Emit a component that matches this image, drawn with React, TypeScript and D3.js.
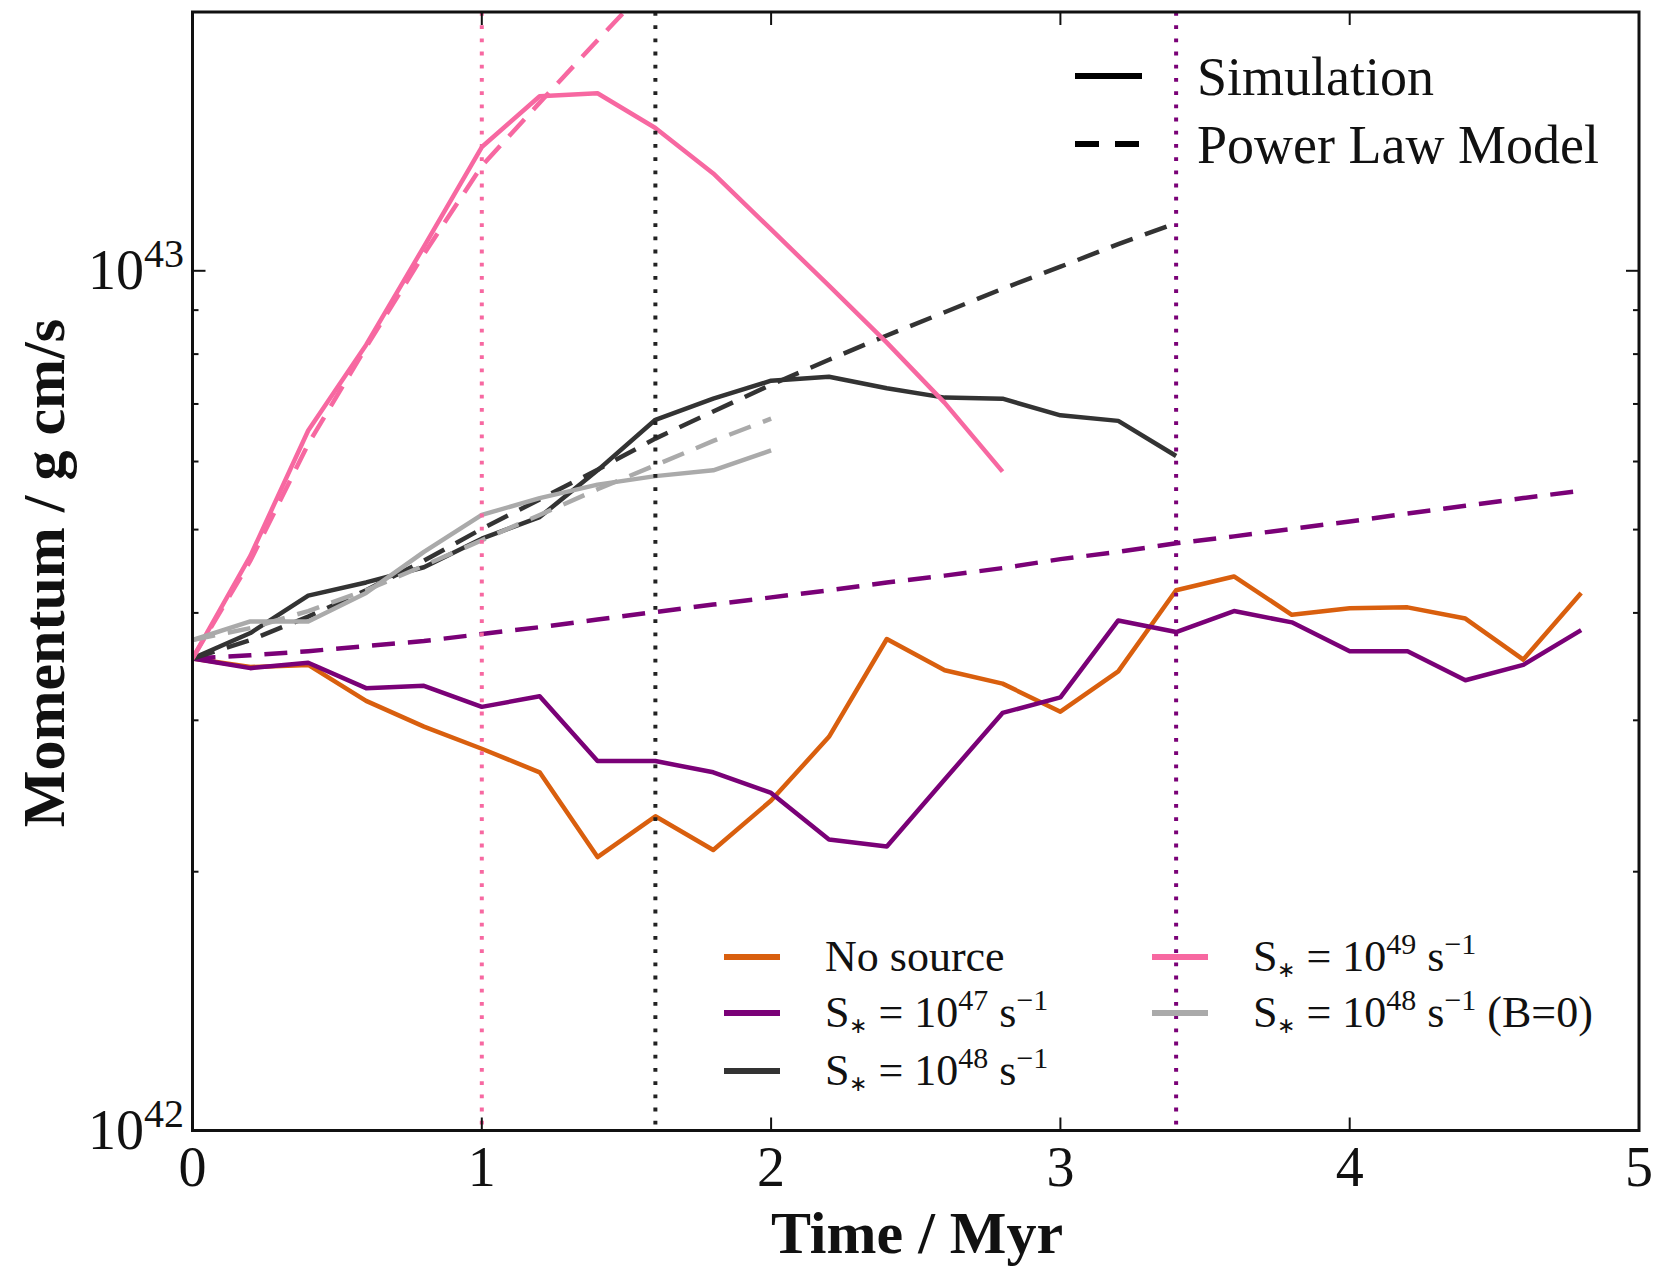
import React, { useEffect, useRef } from 'react';
import * as d3 from 'd3';

// time in Myr, momentum in units of 1e42 g cm/s
const times = [0, 0.2, 0.4, 0.6, 0.8, 1.0, 1.2, 1.4, 1.6, 1.8, 2.0, 2.2, 2.4, 2.6, 2.8, 3.0, 3.2, 3.4, 3.6, 3.8, 4.0, 4.2, 4.4, 4.6, 4.8];

const noSource = [3.54, 3.46, 3.48, 3.16, 2.95, 2.78, 2.61, 2.08, 2.32, 2.12, 2.42, 2.87, 3.73, 3.43, 3.31, 3.07, 3.42, 4.25, 4.41, 3.98, 4.05, 4.06, 3.94, 3.53, 4.22];
const s47 = [3.54, 3.45, 3.5, 3.27, 3.29, 3.11, 3.2, 2.69, 2.69, 2.61, 2.47, 2.18, 2.14, 2.56, 3.06, 3.19, 3.92, 3.8, 4.02, 3.9, 3.61, 3.61, 3.34, 3.48, 3.82];
const s47Model = [3.54, 3.57, 3.61, 3.66, 3.71, 3.78, 3.85, 3.93, 4.01, 4.09, 4.17, 4.25, 4.34, 4.42, 4.51, 4.62, 4.71, 4.82, 4.91, 5.01, 5.11, 5.22, 5.33, 5.44, 5.55];
const s48 = [3.54, 3.79, 4.19, 4.34, 4.52, 4.88, 5.17, 5.86, 6.71, 7.1, 7.45, 7.53, 7.3, 7.12, 7.1, 6.79, 6.69, 6.09];
const s48Model = [3.54, 3.72, 3.96, 4.25, 4.6, 5.01, 5.42, 5.87, 6.38, 6.86, 7.37, 7.88, 8.41, 8.95, 9.53, 10.11, 10.74, 11.36];
const s49 = [3.54, 4.66, 6.52, 8.2, 10.67, 13.93, 15.96, 16.09, 14.66, 12.98, 11.17, 9.61, 8.25, 7.02, 5.84];
const s49Model = [3.54, 4.6, 6.29, 8.15, 10.46, 13.24, 15.69, 18.54, 21.85];
const s48NoB = [3.72, 3.91, 3.91, 4.22, 4.71, 5.2, 5.44, 5.64, 5.77, 5.86, 6.18];
const s48NoBModel = [3.72, 3.84, 4.02, 4.25, 4.54, 4.86, 5.2, 5.57, 5.94, 6.34, 6.73];

// times where each run stops (dotted markers)
const markerTimes = [1.0, 1.6, 3.4];
const markerColors = ['#f768a1', '#222222', '#7a0177'];

const xTicks = [0, 1, 2, 3, 4, 5];
const yMajor = [1, 10];
const yMajorExp = ['42', '43'];
const yMinor = [2, 3, 4, 5, 6, 7, 8, 9, 20];

const FONT = '"Liberation Serif", "Times New Roman", serif';

const App = () => {
	const ref = useRef<SVGSVGElement>(null);

	useEffect(() => {
		document.body.style.margin = '0';
		const svg = d3.select(ref.current);
		svg.selectAll('*').remove();

		const left = 192.5;
		const right = 1639;
		const top = 12;
		const bottom = 1130.5;

		const x = d3.scaleLinear().domain([0, 5]).range([left, right]);
		const y = d3.scaleLog().domain([1, 20]).range([bottom, top]);

		const series = [
			{ color: '#d95f0e', sim: noSource, model: null },
			{ color: '#7a0177', sim: s47, model: s47Model },
			{ color: '#333333', sim: s48, model: s48Model },
			{ color: '#f768a1', sim: s49, model: s49Model },
			{ color: '#aaaaaa', sim: s48NoB, model: s48NoBModel }
		];

		svg.append('defs')
			.append('clipPath')
			.attr('id', 'plotClip')
			.append('rect')
			.attr('x', left)
			.attr('y', top)
			.attr('width', right - left)
			.attr('height', bottom - top);

		const line = d3
			.line<number>()
			.x((_, i) => x(times[i]))
			.y(d => y(d));

		const lines = svg.append('g').attr('clip-path', 'url(#plotClip)');

		series.forEach(s => {
			lines.append('path')
				.attr('d', line(s.sim))
				.attr('fill', 'none')
				.attr('stroke', s.color)
				.attr('stroke-width', 4.5)
				.attr('stroke-linejoin', 'round');
			if (s.model) {
				lines.append('path')
					.attr('d', line(s.model))
					.attr('fill', 'none')
					.attr('stroke', s.color)
					.attr('stroke-width', 4.5)
					.attr('stroke-dasharray', '23 13');
			}
		});

		// dotted markers
		markerTimes.forEach((t, i) => {
			lines.append('line')
				.attr('x1', x(t))
				.attr('x2', x(t))
				.attr('y1', top)
				.attr('y2', bottom)
				.attr('stroke', markerColors[i])
				.attr('stroke-width', 4)
				.attr('stroke-dasharray', '3.8 9.4');
		});

		// frame
		svg.append('rect')
			.attr('x', left)
			.attr('y', top)
			.attr('width', right - left)
			.attr('height', bottom - top)
			.attr('fill', 'none')
			.attr('stroke', '#111')
			.attr('stroke-width', 3);

		const ticks = svg.append('g').attr('stroke', '#111').attr('stroke-width', 2);

		xTicks.forEach(t => {
			ticks.append('line').attr('x1', x(t)).attr('x2', x(t)).attr('y1', bottom).attr('y2', bottom - 13);
			ticks.append('line').attr('x1', x(t)).attr('x2', x(t)).attr('y1', top).attr('y2', top + 13);
			svg.append('text')
				.attr('x', x(t))
				.attr('y', 1186)
				.attr('text-anchor', 'middle')
				.style('font-family', FONT)
				.style('font-size', '56px')
				.attr('fill', '#111')
				.text(String(t));
		});

		yMajor.forEach((v, i) => {
			ticks.append('line').attr('x1', left).attr('x2', left + 13).attr('y1', y(v)).attr('y2', y(v));
			ticks.append('line').attr('x1', right).attr('x2', right - 13).attr('y1', y(v)).attr('y2', y(v));
			const lab = svg.append('text')
				.attr('x', 184)
				.attr('y', y(v) + 18)
				.attr('text-anchor', 'end')
				.style('font-family', FONT)
				.attr('fill', '#111');
			lab.append('tspan').style('font-size', '56px').text('10');
			lab.append('tspan').style('font-size', '40px').attr('dy', -22).text(yMajorExp[i]);
		});

		yMinor.forEach(v => {
			ticks.append('line').attr('x1', left).attr('x2', left + 6).attr('y1', y(v)).attr('y2', y(v));
			ticks.append('line').attr('x1', right).attr('x2', right - 6).attr('y1', y(v)).attr('y2', y(v));
		});

		// axis labels
		svg.append('text')
			.attr('x', 917)
			.attr('y', 1253)
			.attr('text-anchor', 'middle')
			.style('font-family', FONT)
			.style('font-size', '60px')
			.style('font-weight', 'bold')
			.attr('fill', '#111')
			.text('Time / Myr');

		svg.append('text')
			.attr('transform', 'translate(64, 573) rotate(-90)')
			.attr('text-anchor', 'middle')
			.style('font-family', FONT)
			.style('font-size', '60px')
			.style('font-weight', 'bold')
			.attr('fill', '#111')
			.text('Momentum / g cm/s');

		// style legend
		const styleRows = [
			{ label: 'Simulation', dash: null, cy: 76 },
			{ label: 'Power Law Model', dash: '24 16', cy: 144 }
		];
		styleRows.forEach(r => {
			svg.append('line')
				.attr('x1', 1075)
				.attr('x2', 1142)
				.attr('y1', r.cy)
				.attr('y2', r.cy)
				.attr('stroke', '#000')
				.attr('stroke-width', 6)
				.attr('stroke-dasharray', r.dash);
			svg.append('text')
				.attr('x', 1197)
				.attr('y', r.cy + 19)
				.style('font-family', FONT)
				.style('font-size', '54px')
				.attr('fill', '#111')
				.text(r.label);
		});

		// run legend
		const runRows = [
			{ color: '#d95f0e', exp: null, extra: '', lx: 724, tx: 825, cy: 957 },
			{ color: '#7a0177', exp: '47', extra: '', lx: 724, tx: 825, cy: 1013 },
			{ color: '#333333', exp: '48', extra: '', lx: 724, tx: 825, cy: 1071 },
			{ color: '#f768a1', exp: '49', extra: '', lx: 1152, tx: 1253, cy: 957 },
			{ color: '#aaaaaa', exp: '48', extra: ' (B=0)', lx: 1152, tx: 1253, cy: 1013 }
		];
		runRows.forEach(r => {
			svg.append('line')
				.attr('x1', r.lx)
				.attr('x2', r.lx + 56)
				.attr('y1', r.cy)
				.attr('y2', r.cy)
				.attr('stroke', r.color)
				.attr('stroke-width', 6);
			const t = svg.append('text')
				.attr('x', r.tx)
				.attr('y', r.cy + 14)
				.style('font-family', FONT)
				.style('font-size', '44px')
				.attr('fill', '#111');
			if (!r.exp) {
				t.text('No source');
				return;
			}
			t.append('tspan').text('S');
			t.append('tspan').style('font-size', '22px').attr('dy', 6).text('\u2217');
			t.append('tspan').attr('dy', -6).text(' = 10');
			t.append('tspan').style('font-size', '30px').attr('dy', -17).text(r.exp);
			t.append('tspan').attr('dy', 17).text(' s');
			t.append('tspan').style('font-size', '30px').attr('dy', -17).text('\u22121');
			if (r.extra) t.append('tspan').attr('dy', 17).text(r.extra);
		});
	}, []);

	return <svg ref={ref} width={1658} height={1271} style={{ display: 'block', background: '#fff' }} />;
};

export default App;
